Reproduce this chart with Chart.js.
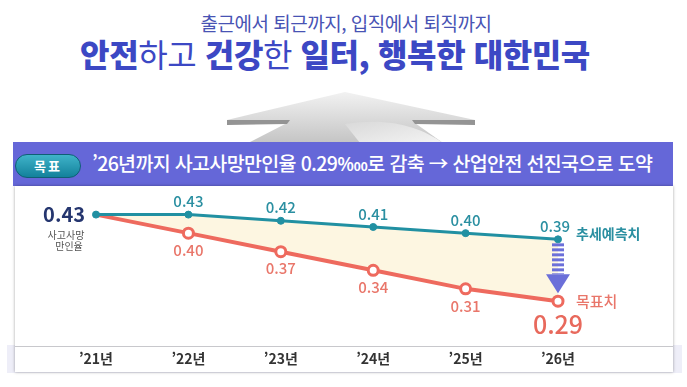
<!DOCTYPE html>
<html lang="ko">
<head>
<meta charset="utf-8">
<script src="https://cdn.jsdelivr.net/npm/chart.js@4.4.1/dist/chart.umd.min.js"></script>
<style>
  html, body { margin: 0; padding: 0; background: #fff; }
  body { width: 687px; height: 387px; position: relative; overflow: hidden; font-family: "Noto Sans CJK KR", "Noto Sans", sans-serif; }
  #subtitle { position: absolute; top: 12px; left: 0; width: 692px; text-align: center; font-size: 19px; line-height: 22px; color: #4853b4; letter-spacing: -0.5px; }
  #title { position: absolute; top: 35px; left: 0; width: 670px; text-align: center; font-size: 32px; line-height: 36px; font-weight: 900; color: #3c48c4; letter-spacing: -0.4px; }
  #title .n { font-weight: 400; }
  #arrow { position: absolute; left: 0; top: 0; }
  #banner { position: absolute; left: 13px; top: 142px; width: 660px; height: 44px; background: #6567d8; }
  #pill { position: absolute; left: 15px; top: 154px; width: 64px; height: 22px; border-radius: 12px; border: 1.5px solid #0f5f75;
          background: linear-gradient(#3fb3c9, #13819b); color: #fff; font-size: 13px; font-weight: 700; line-height: 22px; text-align: center; letter-spacing: 2px; }
  #goalText { position: absolute; left: 92px; top: 152px; font-size: 19.5px; line-height: 22px; color: #fff; font-weight: 500; letter-spacing: -0.65px; white-space: nowrap; }
  #strip { position: absolute; left: 7px; top: 345px; width: 675px; height: 28px; background: #eeeef8; }
  #panel { position: absolute; left: 15px; top: 186px; width: 658px; height: 186px; background: #fff; box-shadow: 0 0 3px rgba(0,0,0,0.35); }
  #baseline { position: absolute; left: 15px; top: 346px; width: 658px; height: 0; border-top: 1px solid #c8c8cc; }
  #chart { position: absolute; left: 15px; top: 185px; }
</style>
</head>
<body>
<div id="subtitle">출근에서 퇴근까지, 입직에서 퇴직까지</div>
<div id="title">안전<span class="n">하고</span> 건강<span class="n">한</span> 일터, 행복한 대한민국</div>
<svg id="arrow" width="687" height="150">
  <defs>
    <linearGradient id="ag" x1="0" y1="0" x2="0" y2="1">
      <stop offset="0" stop-color="#f2f2f2"/>
      <stop offset="1" stop-color="#c4c4c4"/>
    </linearGradient>
    <linearGradient id="hl" x1="0" y1="0" x2="1" y2="1">
      <stop offset="0" stop-color="#d9d9d9"/>
      <stop offset="1" stop-color="#f4f4f4"/>
    </linearGradient>
  </defs>
  <polygon points="345,92 475,120 475,124 415,123 443,143 248,143 287,123 227,124 227,120" fill="url(#ag)"/>
  <path d="M345,124 C390,117 420,127 443,143 L360,143 Z" fill="url(#hl)"/>
  <polygon points="227,120 290,120 287,124 227,125" fill="#949494"/>
  <polygon points="475,120 412,120 415,124 475,125" fill="#949494"/>
</svg>
<div id="banner"></div>
<div id="pill">목표</div>
<div id="goalText">’26년까지 사고사망만인율 0.29‱로 감축 → 산업안전 선진국으로 도약</div>
<div id="strip"></div>
<div id="panel"></div>
<div id="baseline"></div>
<canvas id="chart" width="658" height="187"></canvas>
<script>
const years = ['’21년', '’22년', '’23년', '’24년', '’25년', '’26년'];
const trendValues = [0.43, 0.43, 0.42, 0.41, 0.40, 0.39];
const goalValues = [0.43, 0.40, 0.37, 0.34, 0.31, 0.29];

const teal = '#2190a2';
const red = '#ee6a5e';
const fuente = '"Noto Sans CJK KR", "Noto Sans", sans-serif';

const etiquetas = {
  id: 'etiquetas',
  afterDatasetsDraw(chart) {
    const ctx = chart.ctx;
    const tendencia = chart.getDatasetMeta(0).data;
    const meta = chart.getDatasetMeta(1).data;
    ctx.save();
    ctx.textAlign = 'center';
    ctx.textBaseline = 'middle';

    // flecha rayada entre la tendencia y la meta en el ultimo año
    const a = tendencia[5], b = meta[5];
    ctx.fillStyle = '#6b6fd9';
    const finRayas = b.y - 27;
    for (let y = a.y + 4; y < finRayas; y += 5) {
      ctx.fillRect(a.x - 6, y, 12, Math.min(3, finRayas - y));
    }
    ctx.beginPath();
    ctx.moveTo(a.x - 12, finRayas);
    ctx.lineTo(a.x + 12, finRayas);
    ctx.lineTo(a.x, b.y - 8);
    ctx.closePath();
    ctx.fill();

    ctx.font = '500 15px ' + fuente;
    ctx.fillStyle = '#2a8fa1';
    tendencia.forEach((pt, i) => {
      if (i === 0) return;
      ctx.fillText(trendValues[i].toFixed(2), pt.x - (i === 5 ? 3 : 0), pt.y - 13);
    });

    ctx.fillStyle = '#e9766a';
    meta.forEach((pt, i) => {
      if (i === 0 || i === 5) return;
      ctx.fillText(goalValues[i].toFixed(2), pt.x, pt.y + 17);
    });
    ctx.font = '500 25px ' + fuente;
    ctx.fillStyle = '#e8695c';
    ctx.fillText(goalValues[5].toFixed(2), b.x, b.y + 23);

    // textos de las series
    ctx.textAlign = 'left';
    ctx.font = '700 14px ' + fuente;
    ctx.fillStyle = '#2a8fa1';
    ctx.fillText('추세예측치', a.x + 18, a.y - 6);
    ctx.font = '500 15px ' + fuente;
    ctx.fillStyle = '#e9766a';
    ctx.fillText('목표치', b.x + 18, b.y);

    // valor inicial
    const p0 = tendencia[0];
    ctx.textAlign = 'right';
    ctx.font = '700 20px ' + fuente;
    ctx.fillStyle = '#25366f';
    ctx.fillText(trendValues[0].toFixed(2), p0.x - 11, p0.y);
    ctx.textAlign = 'center';
    ctx.font = '400 10px ' + fuente;
    ctx.fillStyle = '#555';
    ctx.fillText('사고사망', p0.x - 30, p0.y + 21);
    ctx.fillText('만인율', p0.x - 27, p0.y + 32);
    ctx.restore();
  }
};

new Chart(document.getElementById('chart'), {
  type: 'line',
  data: {
    labels: years,
    datasets: [
      {
        label: '추세예측치',
        data: trendValues,
        borderColor: teal,
        borderWidth: 3,
        pointRadius: 3.5,
        pointBackgroundColor: teal,
        pointBorderColor: teal,
        pointBorderWidth: 1,
        fill: false,
        clip: false
      },
      {
        label: '목표치',
        data: goalValues,
        borderColor: red,
        borderWidth: 4,
        pointRadius: [0, 5, 5, 5, 5, 5],
        pointBackgroundColor: '#fff',
        pointBorderColor: red,
        pointBorderWidth: 3,
        fill: '-1',
        backgroundColor: '#fdf6e1',
        clip: false
      }
    ]
  },
  options: {
    responsive: false,
    animation: false,
    layout: { padding: { left: 81, right: 115, top: 5, bottom: 1 } },
    plugins: { legend: { display: false }, tooltip: { enabled: false } },
    scales: {
      x: {
        offset: false,
        grid: { display: false, drawTicks: false },
        border: { display: false },
        ticks: { padding: 4, maxRotation: 0, color: '#333', font: { family: fuente, size: 14, weight: 'bold' } }
      },
      y: { display: false, min: 0.2173, max: 0.4649 }
    }
  },
  plugins: [etiquetas]
});
</script>
</body>
</html>
